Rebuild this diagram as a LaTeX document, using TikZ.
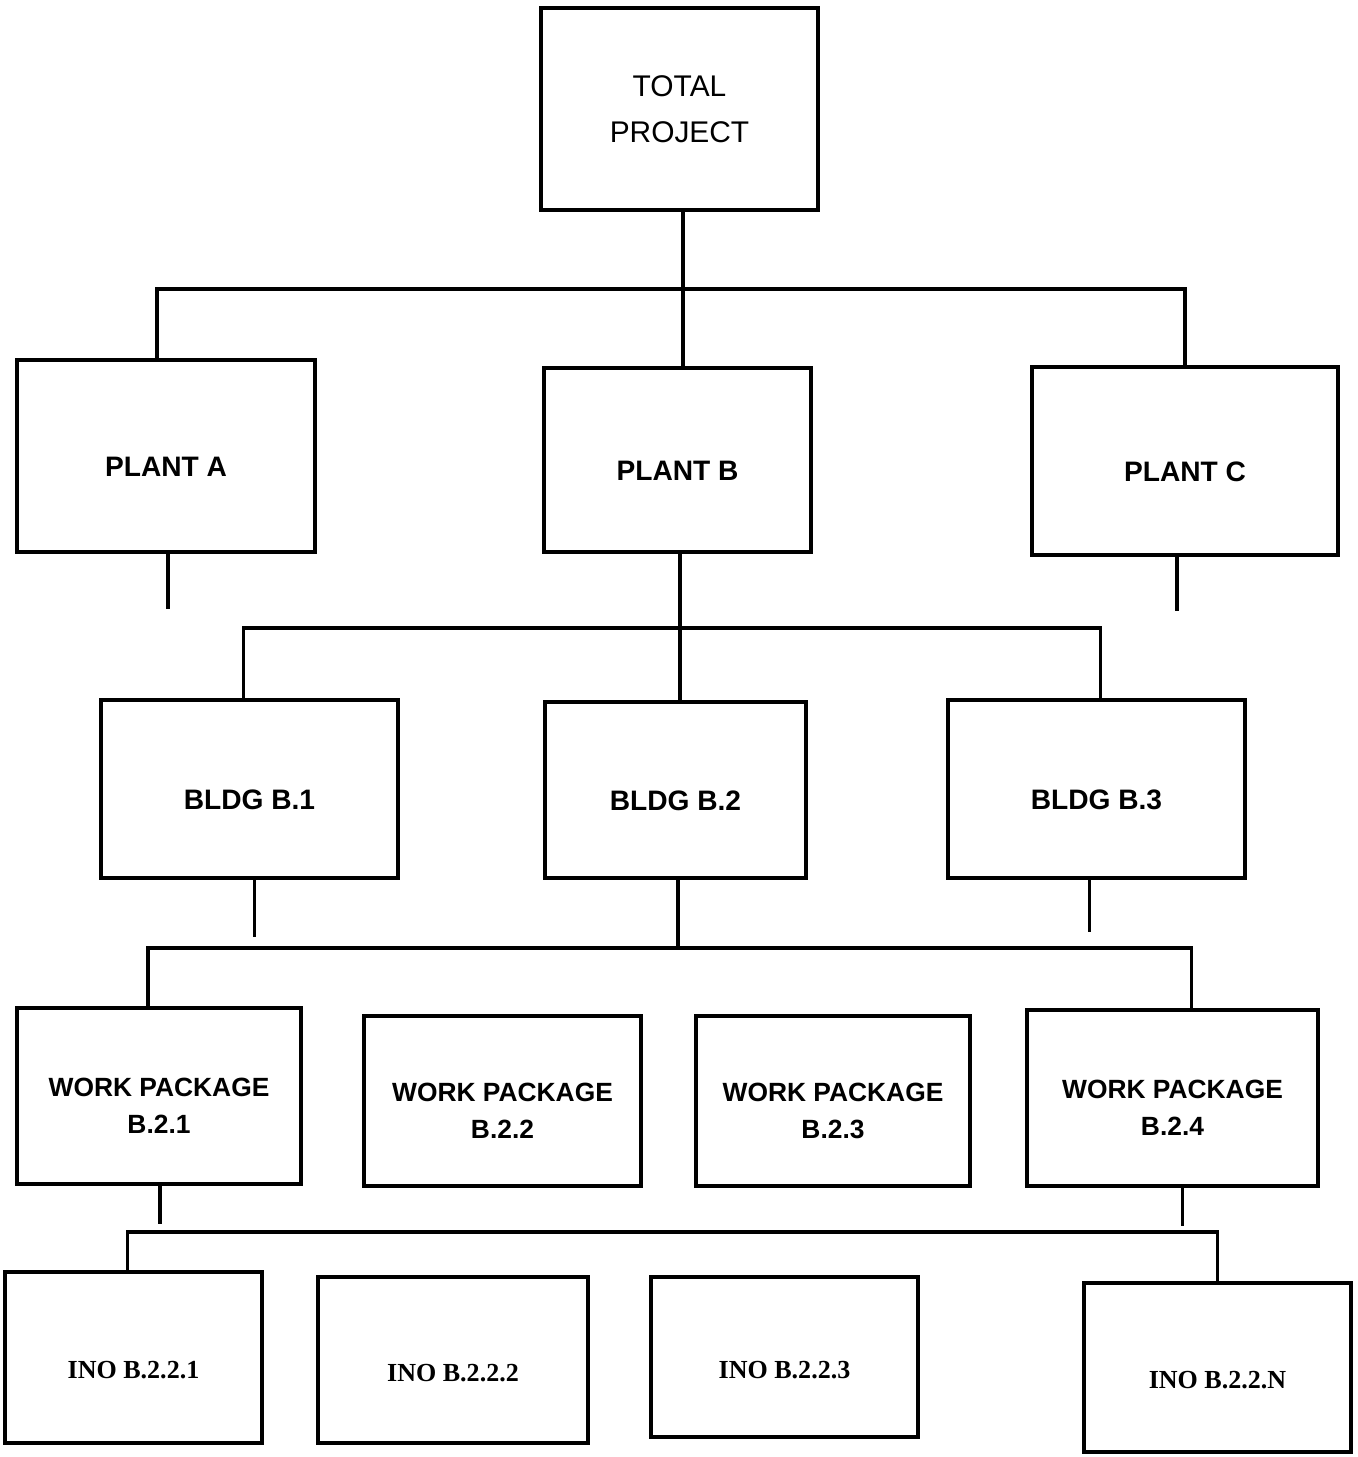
\documentclass[tikz,border=0pt]{standalone}
\usepackage{fontspec}
\setmainfont{Liberation Sans}
\newfontfamily\inofont{Liberation Serif}
\usetikzlibrary{positioning}

\begin{document}
\begin{tikzpicture}[
      x=0.01cm, y=-0.01cm,
      every node/.style={font=\fontsize{8}{12}\selectfont\bfseries},
      wbsbox/.style={draw, line width=1.1pt, inner sep=0pt, align=center, text height=0.4cm, text depth=0pt},
      wpbox/.style={wbsbox, font=\fontsize{7.5}{10.5}\selectfont\bfseries, text height=0.74cm},
      inobox/.style={wbsbox, font=\inofont\fontsize{7.4}{10}\selectfont\bfseries, text height=0.42cm},
      link/.style={line width=0.9pt}
  ]
    \useasboundingbox (0,0) rectangle (1358,1457);
    % top
    \node[wbsbox, minimum width=2.77cm, minimum height=2.02cm, text height=, text depth=, font=\fontsize{8.5}{13}\selectfont] (total) at (679.5,109) {TOTAL\\PROJECT};
    % plants
    \node[wbsbox, minimum width=2.98cm, minimum height=1.92cm] (plantA) at (166,456) {PLANT A};
    \node[wbsbox, minimum width=2.67cm, minimum height=1.84cm] (plantB) at (677.5,460) {PLANT B};
    \node[wbsbox, minimum width=3.06cm, minimum height=1.88cm] (plantC) at (1185,461) {PLANT C};
    % buildings
    \node[wbsbox, minimum width=2.97cm, minimum height=1.78cm] (bldgB1) at (249.5,789) {BLDG B.1};
    \node[wbsbox, minimum width=2.61cm, minimum height=1.76cm] (bldgB2) at (675.5,790) {BLDG B.2};
    \node[wbsbox, minimum width=2.97cm, minimum height=1.78cm] (bldgB3) at (1096.5,789) {BLDG B.3};
    % work packages
    \node[wpbox, minimum width=2.84cm, minimum height=1.76cm] (wp1) at (159,1096) {WORK PACKAGE\\B.2.1};
    \node[wpbox, minimum width=2.77cm, minimum height=1.70cm] (wp2) at (502.5,1101) {WORK PACKAGE\\B.2.2};
    \node[wpbox, minimum width=2.74cm, minimum height=1.70cm] (wp3) at (833,1101) {WORK PACKAGE\\B.2.3};
    \node[wpbox, minimum width=2.91cm, minimum height=1.76cm] (wp4) at (1172.5,1098) {WORK PACKAGE\\B.2.4};
    % items
    \node[inobox, minimum width=2.57cm, minimum height=1.71cm] (ino1) at (133.5,1357.5) {INO B.2.2.1};
    \node[inobox, minimum width=2.70cm, minimum height=1.66cm] (ino2) at (453,1360) {INO B.2.2.2};
    \node[inobox, minimum width=2.67cm, minimum height=1.60cm] (ino3) at (784.5,1357) {INO B.2.2.3};
    \node[inobox, minimum width=2.67cm, minimum height=1.69cm] (inoN) at (1217.5,1367.5) {INO B.2.2.N};

    \coordinate (j1) at (683,289);
    \coordinate (j2) at (680,628);
    \coordinate (j3) at (678,948);
    \coordinate (j4) at (680,1232);

    \draw[link] (total.south -| j1) -- (j1);
    \draw[link] ([xshift=-0.09cm]plantA.north) |- (j1) -| (plantC.north);
    \draw[link] (plantB.north -| j1) -- (j1);
    \draw[link] ([xshift=0.02cm]plantA.south) -- ++(0,55);
    \draw[link] ([xshift=-0.08cm]plantC.south) -- ++(0,54);

    \draw[link] (plantB.south -| j2) -- (j2);
    \draw[link] ([xshift=-0.06cm]bldgB1.north) |- (j2) -| ([xshift=0.04cm]bldgB3.north);
    \draw[link] (bldgB2.north -| j2) -- (j2);
    \draw[link] ([xshift=0.05cm]bldgB1.south) -- ++(0,57);
    \draw[link] ([xshift=-0.07cm]bldgB3.south) -- ++(0,52);

    \draw[link] (bldgB2.south -| j3) -- (j3);
    \draw[link] ([xshift=-0.11cm]wp1.north) |- (j3) -| ([xshift=0.19cm]wp4.north);
    \draw[link] ([xshift=0.01cm]wp1.south) -- ++(0,38);
    \draw[link] ([xshift=0.1cm]wp4.south) -- ++(0,38);

    \draw[link] ([xshift=-0.06cm]ino1.north) |- (j4) -| (inoN.north);
  \end{tikzpicture}
\end{document}
